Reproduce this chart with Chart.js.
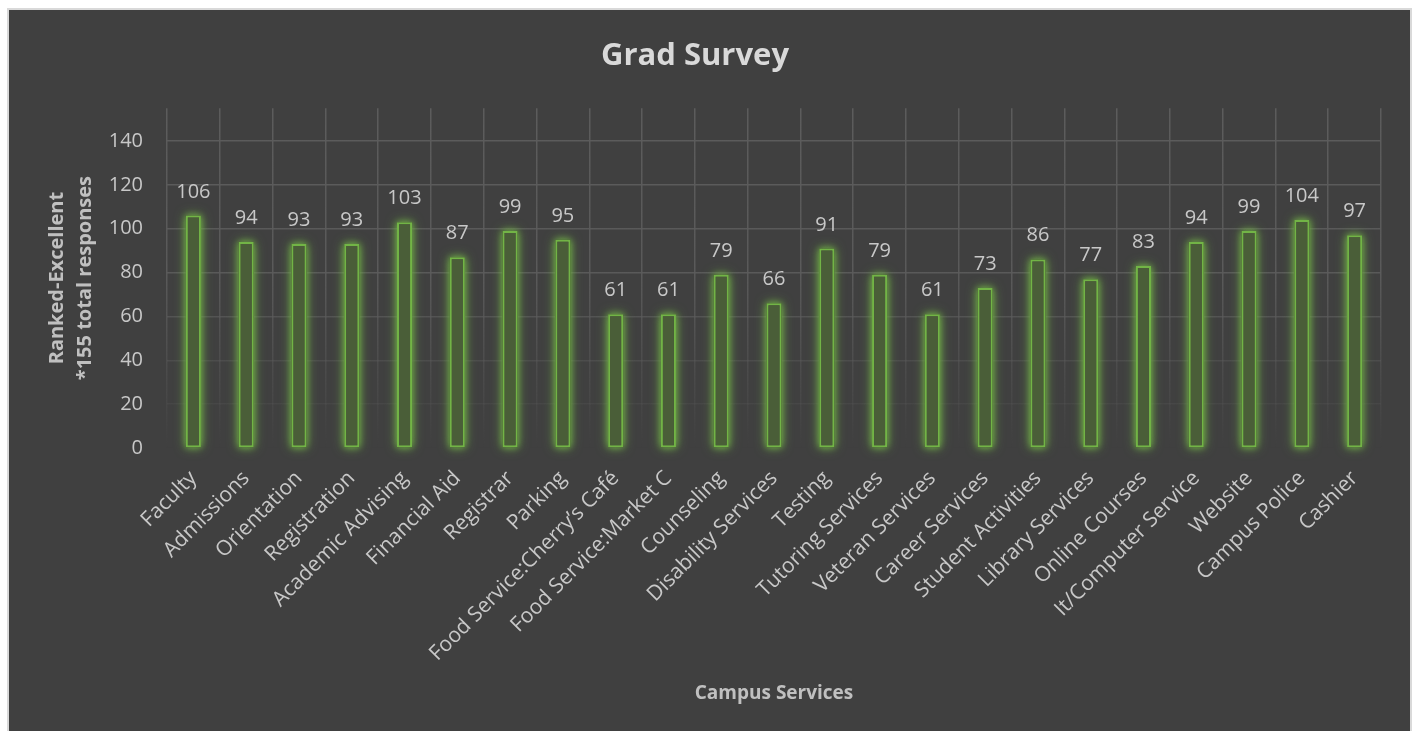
<!DOCTYPE html>
<html lang="en">

<head>
    <meta charset="UTF-8">
    <title>Grad Survey</title>
    <style>
        body { margin: 0; background: #ffffff; overflow: hidden; }
        .chartBox {
            position: absolute; left: 7px; top: 8px;
            width: 1401px; height: 760px;
            border: 2px solid #d9d9d9; background: #404040;
        }
        .chartInner { position: relative; width: 1401px; height: 721px; }
    </style>
</head>

<body>
    <div class="chartBox">
        <div class="chartInner">
            <canvas id="myChart"></canvas>
        </div>
    </div>
</body>

</html>
<script type="text/javascript" src="https://cdn.jsdelivr.net/npm/chart.js/dist/chart.umd.min.js"></script>
<script>
    // dados
    const servicos = [
        'Faculty', 'Admissions', 'Orientation', 'Registration', 'Academic Advising',
        'Financial Aid', 'Registrar', 'Parking', 'Food Service:Cherry\u2019s Café',
        'Food Service:Market C', 'Counseling', 'Disability Services', 'Testing',
        'Tutoring Services', 'Veteran Services', 'Career Services', 'Student Activities',
        'Library Services', 'Online Courses', 'It/Computer Service', 'Website',
        'Campus Police', 'Cashier'
    ];
    const excelente = [106, 94, 93, 93, 103, 87, 99, 95, 61, 61, 79, 66, 91, 79, 61, 73, 86, 77, 83, 94, 99, 104, 97];
    const tituloY = ['Ranked-Excellent', '*155 total responses'];
    const yMax = 155;
    const yUltimoTick = 140;

    const fonte = 'Open Sans';

    // grade com degradê (mais fraca embaixo)
    function corGrade(context) {
        const area = context.chart.chartArea;
        if (!area) return 'rgba(90,90,90,1)';
        const g = context.chart.ctx.createLinearGradient(0, area.top, 0, area.bottom);
        g.addColorStop(0, 'rgba(92,92,92,1)');
        g.addColorStop(0.5, 'rgba(92,92,92,0.9)');
        g.addColorStop(1, 'rgba(92,92,92,0)');
        return g;
    }

    // brilho verde atrás das barras
    const brilho = {
        id: 'brilho',
        beforeDatasetsDraw(chart) {
            const ctx = chart.ctx;
            const meta = chart.getDatasetMeta(0);
            ctx.save();
            ctx.shadowColor = 'rgba(112,173,71,0.9)';
            ctx.fillStyle = '#4a5e38';
            [12, 6].forEach((blur) => {
                ctx.shadowBlur = blur;
                meta.data.forEach((bar) => {
                    const p = bar.getProps(['x', 'y', 'base', 'width'], true);
                    ctx.fillRect(p.x - p.width / 2, p.y, p.width, p.base - p.y);
                });
            });
            ctx.restore();
        }
    };

    // rótulos de valor
    const rotulos = {
        id: 'rotulos',
        afterDatasetsDraw(chart) {
            const ctx = chart.ctx;
            const meta = chart.getDatasetMeta(0);
            ctx.save();
            ctx.font = '20px "' + fonte + '"';
            ctx.fillStyle = '#c8c8c8';
            ctx.textAlign = 'center';
            ctx.textBaseline = 'alphabetic';
            meta.data.forEach((bar, i) => {
                ctx.fillText(String(chart.data.datasets[0].data[i]), bar.x, bar.y - 18);
            });
            ctx.restore();
        }
    };

    const ctx = document.getElementById('myChart');

    let grafico = new Chart(ctx, {
        type: 'bar',
        data: {
            labels: servicos,
            datasets: [{
                label: 'Ranked-Excellent',
                data: excelente,
                backgroundColor: '#4a5e38',
                borderColor: '#72b446',
                borderWidth: 2,
                borderSkipped: false,
                barPercentage: 0.285,
                categoryPercentage: 1
            }]
        },
        options: {
            responsive: true,
            maintainAspectRatio: false,
            animation: false,
            layout: { padding: { left: 0, right: 29, top: 0, bottom: 0 } },
            plugins: {
                legend: { display: false },
                tooltip: { enabled: false },
                title: {
                    display: true,
                    text: 'Grad Survey',
                    color: '#d9d9d9',
                    font: { family: fonte, size: 31, weight: 'bold', lineHeight: 1.2 },
                    padding: { top: 28, bottom: 33 }
                }
            },
            scales: {
                x: {
                    grid: { color: corGrade, lineWidth: 1.5, drawTicks: false, offset: true },
                    border: { display: false },
                    ticks: {
                        color: '#c8c8c8',
                        font: { family: fonte, size: 21 },
                        minRotation: 45,
                        maxRotation: 45,
                        autoSkip: false,
                        padding: 18
                    },
                    title: {
                        display: true,
                        text: 'Campus Services',
                        color: '#c0c0c0',
                        font: { family: fonte, size: 19, weight: 'bold', lineHeight: 1.2 },
                        padding: { top: 0, bottom: 26 }
                    },
                    afterFit: (s) => { s.height = 283; }
                },
                y: {
                    min: 0,
                    max: yMax,
                    grid: { color: corGrade, lineWidth: 1.5, drawTicks: false },
                    border: { display: false },
                    ticks: {
                        stepSize: 20,
                        color: '#c8c8c8',
                        font: { family: fonte, size: 20 },
                        padding: 24
                    },
                    afterBuildTicks: (s) => {
                        s.ticks = s.ticks.filter((t) => t.value <= yUltimoTick);
                    },
                    title: {
                        display: true,
                        text: tituloY,
                        color: '#c0c0c0',
                        font: { family: fonte, size: 20, weight: 'bold', lineHeight: 1.4 },
                        padding: { top: 34, bottom: 0 }
                    },
                    afterFit: (s) => { s.width = 158; }
                }
            }
        },
        plugins: [brilho, rotulos]
    });
</script>
